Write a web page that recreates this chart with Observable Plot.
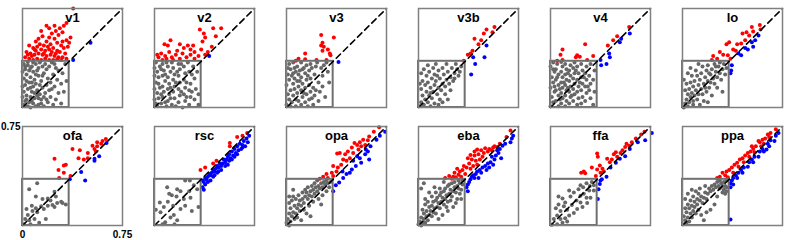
<!DOCTYPE html>
<html><head><meta charset="utf-8">
<script src="https://cdn.jsdelivr.net/npm/d3@7"></script>
<script src="https://cdn.jsdelivr.net/npm/@observablehq/plot@0.6"></script>
<style>body{margin:0;background:#fff}#chart{width:789px;height:240px}</style>
</head><body><div id="chart"></div>
<script>
const panels = ["v1","v2","v3","v3b","v4","lo","ofa","rsc","opa","eba","ffa","ppa"];
const threshold = 0.35;
const axisMax = 0.75;
const xTickValues = [0, 0.75];
const xTickLabels = ["0", "0.75"];
const yTickValues = [0.75];
const yTickLabels = ["0.75"];

const pts_v1 = [
[0.01,0.02],[0.02,0.05],[0.04,0.01],[0.03,0.09],[0.05,0.04],[0.06,0.08],[0.01,0.12],[0.04,0.14],[0.07,0.12],[0.02,0.17],[0.05,0.19],[0.08,0.16],[0.01,0.22],[0.03,0.25],[0.06,0.23],[0.09,0.21],[0.02,0.29],[0.05,0.28],[0.08,0.27],[0.01,0.33],[0.04,0.32],[0.07,0.31],[0.10,0.33],[0.11,0.28],[0.12,0.24],[0.10,0.18],[0.11,0.13],[0.09,0.07],[0.08,0.03],[0.12,0.02],[0.14,0.06],[0.13,0.10],[0.15,0.15],[0.14,0.20],[0.16,0.26],[0.15,0.31],[0.13,0.34],[0.17,0.33],[0.18,0.29],[0.19,0.22],[0.18,0.17],[0.17,0.11],[0.19,0.04],[0.16,0.01],[0.21,0.08],[0.22,0.14],[0.21,0.19],[0.23,0.25],[0.20,0.31],[0.22,0.34],[0.25,0.30],[0.26,0.21],[0.24,0.16],[0.27,0.11],[0.25,0.06],[0.29,0.03],[0.30,0.26],[0.32,0.33],[0.29,0.18],[0.31,0.12],[0.33,0.20],[0.02,0.01],[0.06,0.00],[0.10,0.01],[0.03,0.06],[0.07,0.05],[0.00,0.08],[0.00,0.16],[0.00,0.27],[0.03,0.20],[0.06,0.15],[0.09,0.11],[0.12,0.07],[0.04,0.345],[0.08,0.34],[0.12,0.30],[0.15,0.24],[0.06,0.30],[0.10,0.25],[0.13,0.17],[0.16,0.08],[0.20,0.13],[0.23,0.02],[0.27,0.28],[0.18,0.06],[0.24,0.33],[0.02,0.31],[0.07,0.19],[0.11,0.09],[0.14,0.03],
[0.38,0.75],[0.33,0.64],[0.31,0.62],[0.28,0.60],[0.25,0.58],[0.30,0.57],[0.36,0.53],[0.33,0.51],[0.27,0.55],[0.22,0.56],[0.24,0.52],[0.20,0.53],[0.18,0.50],[0.15,0.54],[0.12,0.52],[0.10,0.50],[0.16,0.47],[0.21,0.48],[0.26,0.49],[0.29,0.47],[0.31,0.45],[0.34,0.46],[0.05,0.47],[0.08,0.45],[0.11,0.46],[0.14,0.44],[0.17,0.43],[0.20,0.44],[0.23,0.45],[0.26,0.43],[0.28,0.42],[0.32,0.41],[0.03,0.42],[0.06,0.41],[0.09,0.40],[0.12,0.41],[0.15,0.40],[0.18,0.39],[0.21,0.40],[0.24,0.39],[0.27,0.38],[0.30,0.38],[0.02,0.38],[0.05,0.37],[0.08,0.36],[0.11,0.37],[0.14,0.36],[0.17,0.37],[0.20,0.36],[0.23,0.36],[0.26,0.365],[0.29,0.36],[0.33,0.37],[0.10,0.43],[0.13,0.48],[0.07,0.39],[0.19,0.46],[0.22,0.42],[0.25,0.41],[0.16,0.41],[0.09,0.44],[0.04,0.40],[0.30,0.50],[0.35,0.49],[0.24,0.62],[0.20,0.60],[0.14,0.58],[0.18,0.62],
[0.51,0.49],[0.38,0.36]
];
const pts_v2 = [
[0.01,0.03],[0.03,0.07],[0.02,0.11],[0.04,0.15],[0.01,0.19],[0.03,0.23],[0.02,0.27],[0.04,0.31],[0.01,0.34],[0.06,0.33],[0.07,0.28],[0.06,0.24],[0.08,0.20],[0.06,0.16],[0.07,0.12],[0.06,0.08],[0.05,0.03],[0.09,0.01],[0.10,0.05],[0.11,0.10],[0.10,0.14],[0.11,0.18],[0.10,0.23],[0.12,0.27],[0.10,0.31],[0.13,0.34],[0.14,0.30],[0.15,0.25],[0.14,0.21],[0.15,0.16],[0.14,0.12],[0.15,0.07],[0.13,0.02],[0.18,0.04],[0.19,0.09],[0.18,0.14],[0.19,0.19],[0.18,0.24],[0.19,0.29],[0.18,0.33],[0.22,0.31],[0.23,0.26],[0.22,0.21],[0.23,0.15],[0.22,0.10],[0.23,0.05],[0.26,0.02],[0.27,0.08],[0.26,0.13],[0.27,0.18],[0.26,0.27],[0.25,0.34],[0.29,0.31],[0.30,0.22],[0.31,0.14],[0.30,0.06],[0.33,0.02],[0.33,0.10],[0.32,0.27],[0.02,0.01],[0.05,0.10],[0.03,0.18],[0.08,0.25],[0.05,0.29],[0.09,0.34],[0.12,0.07],[0.16,0.01],[0.17,0.27],[0.20,0.12],[0.24,0.19],[0.28,0.25],[0.21,0.00],[0.00,0.06],[0.00,0.14],[0.00,0.24],[0.00,0.30],[0.08,0.04],[0.12,0.15],[0.16,0.19],[0.20,0.33],[0.28,0.12],[0.24,0.08],
[0.44,0.60],[0.50,0.60],[0.34,0.59],[0.37,0.56],[0.38,0.53],[0.46,0.54],[0.12,0.51],[0.075,0.48],[0.10,0.47],[0.36,0.50],[0.43,0.46],[0.40,0.42],[0.30,0.42],[0.27,0.44],[0.22,0.45],[0.19,0.48],[0.25,0.47],[0.03,0.38],[0.05,0.41],[0.08,0.39],[0.11,0.42],[0.13,0.38],[0.16,0.40],[0.19,0.37],[0.21,0.41],[0.24,0.38],[0.27,0.40],[0.30,0.37],[0.33,0.39],[0.06,0.36],[0.14,0.36],[0.35,0.44],[0.38,0.40],[0.17,0.43],[0.02,0.40],[0.09,0.37],[0.29,0.47],
[0.41,0.39]
];
const pts_v3 = [
[0.00,0.02],[0.02,0.06],[0.01,0.10],[0.03,0.13],[0.00,0.17],[0.02,0.21],[0.01,0.25],[0.03,0.29],[0.02,0.33],[0.05,0.34],[0.06,0.30],[0.05,0.26],[0.06,0.22],[0.05,0.18],[0.06,0.14],[0.05,0.09],[0.04,0.04],[0.07,0.01],[0.09,0.05],[0.08,0.11],[0.09,0.16],[0.08,0.20],[0.09,0.25],[0.08,0.31],[0.11,0.34],[0.12,0.29],[0.11,0.23],[0.12,0.18],[0.11,0.13],[0.12,0.08],[0.11,0.02],[0.14,0.04],[0.15,0.10],[0.14,0.15],[0.15,0.21],[0.14,0.26],[0.15,0.32],[0.18,0.33],[0.17,0.28],[0.18,0.22],[0.17,0.17],[0.18,0.12],[0.17,0.06],[0.20,0.02],[0.21,0.09],[0.20,0.15],[0.21,0.25],[0.22,0.31],[0.24,0.19],[0.25,0.12],[0.24,0.05],[0.27,0.24],[0.28,0.32],[0.27,0.16],[0.29,0.08],[0.31,0.27],[0.32,0.19],[0.03,0.01],[0.04,0.24],[0.07,0.27],[0.10,0.20],[0.13,0.11],[0.16,0.24],[0.19,0.30],[0.01,0.30],[0.07,0.06],[0.10,0.28],[0.13,0.30],[0.16,0.01],[0.19,0.07],[0.22,0.13],[0.26,0.30],[0.30,0.34],[0.23,0.34],
[0.26,0.55],[0.355,0.53],[0.27,0.49],[0.26,0.47],[0.28,0.46],[0.31,0.44],[0.27,0.43],[0.325,0.41],[0.33,0.395],[0.14,0.41],[0.09,0.37],[0.14,0.365],[0.225,0.36],[0.30,0.36],[0.07,0.355],
[0.39,0.345]
];
const pts_v3b = [
[0.01,0.01],[0.02,0.04],[0.04,0.02],[0.05,0.06],[0.03,0.09],[0.07,0.04],[0.08,0.09],[0.06,0.12],[0.02,0.14],[0.10,0.07],[0.11,0.12],[0.09,0.15],[0.05,0.17],[0.03,0.20],[0.07,0.19],[0.12,0.17],[0.14,0.10],[0.15,0.15],[0.13,0.20],[0.10,0.22],[0.06,0.24],[0.02,0.26],[0.04,0.29],[0.08,0.27],[0.12,0.25],[0.16,0.22],[0.18,0.18],[0.17,0.13],[0.20,0.16],[0.21,0.21],[0.19,0.25],[0.15,0.28],[0.11,0.30],[0.07,0.32],[0.13,0.33],[0.18,0.30],[0.22,0.27],[0.24,0.23],[0.23,0.18],[0.26,0.20],[0.27,0.26],[0.25,0.30],[0.21,0.33],[0.29,0.29],[0.30,0.24],[0.28,0.33],[0.32,0.31],[0.31,0.27],[0.20,0.10],[0.16,0.06],[0.24,0.13],[0.12,0.03],[0.09,0.01],[0.15,0.02],[0.22,0.06],[0.18,0.04],[0.01,0.18],[0.09,0.11],[0.14,0.24],[0.27,0.22],
[0.57,0.61],[0.51,0.59],[0.49,0.56],[0.555,0.57],[0.47,0.51],[0.42,0.52],[0.45,0.48],[0.39,0.41],[0.37,0.40],[0.34,0.355],[0.405,0.43],
[0.51,0.47],[0.495,0.38],[0.425,0.33],[0.395,0.25],[0.41,0.38]
];
const pts_v4 = [
[0.00,0.01],[0.02,0.04],[0.01,0.08],[0.03,0.12],[0.00,0.15],[0.02,0.19],[0.01,0.23],[0.03,0.27],[0.00,0.31],[0.02,0.34],[0.05,0.33],[0.04,0.29],[0.06,0.25],[0.04,0.21],[0.06,0.17],[0.04,0.13],[0.06,0.09],[0.04,0.05],[0.06,0.01],[0.08,0.03],[0.09,0.07],[0.08,0.11],[0.09,0.15],[0.08,0.19],[0.09,0.23],[0.08,0.27],[0.09,0.31],[0.08,0.345],[0.11,0.33],[0.12,0.29],[0.11,0.25],[0.12,0.21],[0.11,0.17],[0.12,0.13],[0.11,0.09],[0.12,0.05],[0.11,0.01],[0.14,0.03],[0.15,0.08],[0.14,0.12],[0.15,0.16],[0.14,0.20],[0.15,0.24],[0.14,0.28],[0.15,0.32],[0.18,0.34],[0.17,0.30],[0.18,0.26],[0.17,0.22],[0.18,0.18],[0.17,0.14],[0.18,0.10],[0.17,0.05],[0.20,0.02],[0.21,0.07],[0.20,0.12],[0.21,0.16],[0.20,0.21],[0.21,0.26],[0.20,0.31],[0.23,0.33],[0.24,0.28],[0.23,0.23],[0.24,0.18],[0.23,0.13],[0.24,0.08],[0.23,0.03],[0.26,0.05],[0.27,0.11],[0.26,0.16],[0.27,0.21],[0.26,0.26],[0.27,0.31],[0.30,0.33],[0.29,0.24],[0.30,0.18],[0.29,0.13],[0.30,0.07],[0.32,0.02],[0.33,0.12],[0.32,0.21],[0.33,0.28],[0.02,0.29],[0.05,0.23],[0.07,0.14],[0.10,0.19],[0.13,0.26],[0.16,0.09],[0.19,0.28],[0.22,0.19],[0.25,0.23],[0.28,0.16],[0.07,0.06],[0.13,0.15],[0.03,0.16],
[0.59,0.61],[0.50,0.54],[0.53,0.52],[0.47,0.51],[0.43,0.47],[0.26,0.48],[0.09,0.44],[0.075,0.40],[0.20,0.395],[0.19,0.38],[0.22,0.385],[0.32,0.39],[0.09,0.36],[0.05,0.355],[0.275,0.36],
[0.595,0.56],[0.52,0.495],[0.44,0.41],[0.445,0.38],[0.375,0.36],[0.42,0.33],[0.38,0.32]
];
const pts_lo = [
[0.01,0.00],[0.02,0.03],[0.04,0.01],[0.03,0.06],[0.05,0.04],[0.06,0.08],[0.04,0.10],[0.08,0.05],[0.07,0.11],[0.09,0.09],[0.02,0.13],[0.05,0.14],[0.10,0.13],[0.12,0.10],[0.11,0.06],[0.08,0.16],[0.03,0.18],[0.06,0.19],[0.01,0.21],[0.09,0.20],[0.12,0.17],[0.14,0.14],[0.15,0.10],[0.13,0.21],[0.11,0.24],[0.07,0.24],[0.04,0.26],[0.16,0.18],[0.17,0.23],[0.14,0.26],[0.10,0.28],[0.19,0.20],[0.20,0.15],[0.18,0.12],[0.21,0.25],[0.18,0.28],[0.15,0.31],[0.23,0.22],[0.24,0.18],[0.22,0.29],[0.19,0.32],[0.25,0.27],[0.26,0.23],[0.27,0.31],[0.24,0.33],[0.28,0.26],[0.29,0.21],[0.30,0.29],[0.31,0.33],[0.32,0.25],[0.28,0.34],[0.33,0.30],[0.26,0.15],[0.30,0.12],[0.22,0.09],[0.16,0.05],[0.13,0.02],[0.19,0.04],[0.06,0.30],[0.12,0.33],[0.08,0.02],[0.17,0.15],[0.21,0.19],[0.25,0.31],[0.20,0.26],
[0.58,0.625],[0.52,0.61],[0.48,0.57],[0.45,0.56],[0.50,0.545],[0.35,0.495],[0.33,0.48],[0.41,0.48],[0.44,0.485],[0.38,0.44],[0.28,0.42],[0.305,0.40],[0.34,0.395],[0.23,0.39],[0.26,0.37],[0.22,0.36],[0.36,0.37],[0.47,0.51],[0.53,0.575],[0.40,0.43],
[0.57,0.545],[0.545,0.51],[0.585,0.59],[0.53,0.46],[0.49,0.44],[0.47,0.45],[0.42,0.41],[0.44,0.395],[0.37,0.32],[0.365,0.28],[0.36,0.26],[0.52,0.495]
];
const pts_ofa = [
[0.11,0.32],[0.05,0.275],[0.10,0.22],[0.15,0.20],[0.19,0.205],[0.21,0.19],[0.25,0.22],[0.24,0.255],[0.29,0.18],[0.26,0.17],[0.225,0.155],[0.19,0.15],[0.14,0.145],[0.10,0.13],[0.075,0.11],[0.04,0.08],[0.02,0.05],[0.05,0.04],[0.09,0.05],[0.125,0.02],[0.06,0.01],[0.175,0.05],[0.325,0.16],[0.30,0.17],[0.24,0.14],[0.01,0.01],[0.16,0.125],[0.11,0.10],[0.07,0.15],[0.03,0.125],
[0.625,0.655],[0.60,0.64],[0.56,0.63],[0.525,0.605],[0.56,0.60],[0.54,0.58],[0.59,0.62],[0.375,0.58],[0.43,0.57],[0.49,0.55],[0.42,0.51],[0.46,0.50],[0.49,0.51],[0.24,0.505],[0.325,0.46],[0.31,0.455],[0.27,0.42],[0.31,0.40],[0.275,0.36],[0.36,0.375],[0.55,0.56],
[0.63,0.625],[0.54,0.505],[0.54,0.49],[0.575,0.525],[0.44,0.405],[0.47,0.34],[0.355,0.35]
];
const pts_rsc = [
[0.23,0.34],[0.265,0.34],[0.295,0.305],[0.17,0.275],[0.095,0.29],[0.13,0.23],[0.165,0.22],[0.195,0.26],[0.26,0.26],[0.22,0.20],[0.10,0.18],[0.14,0.15],[0.07,0.14],[0.01,0.12],[0.045,0.10],[0.145,0.08],[0.12,0.06],[0.17,0.04],[0.08,0.025],[0.06,0.01],[0.15,0.01],[0.33,0.14],[0.28,0.11],[0.195,0.125],[0.23,0.15],[0.04,0.175],[0.11,0.24],[0.32,0.275],[0.27,0.21],
[0.695,0.70],[0.66,0.68],[0.62,0.67],[0.565,0.625],[0.565,0.60],[0.465,0.49],[0.44,0.47],[0.345,0.42],[0.38,0.44],
[0.71,0.68],[0.69,0.66],[0.67,0.64],[0.70,0.63],[0.66,0.61],[0.68,0.60],[0.64,0.62],[0.62,0.60],[0.65,0.58],[0.63,0.57],[0.60,0.58],[0.61,0.55],[0.58,0.56],[0.59,0.53],[0.56,0.54],[0.57,0.51],[0.55,0.52],[0.54,0.50],[0.53,0.48],[0.56,0.49],[0.52,0.50],[0.51,0.47],[0.50,0.45],[0.49,0.47],[0.48,0.44],[0.47,0.45],[0.46,0.43],[0.45,0.41],[0.47,0.40],[0.44,0.42],[0.43,0.40],[0.42,0.38],[0.44,0.37],[0.41,0.39],[0.40,0.37],[0.39,0.35],[0.38,0.36],[0.37,0.33],[0.36,0.34],[0.38,0.31],[0.36,0.29],[0.37,0.27],[0.50,0.42],[0.53,0.45],[0.58,0.50],[0.62,0.54],[0.66,0.59],[0.42,0.34],[0.45,0.38],[0.40,0.33],[0.60,0.52],[0.55,0.46],[0.48,0.41]
];
const pts_opa = [
[0.00,0.02],[0.02,0.00],[0.01,0.05],[0.03,0.03],[0.04,0.07],[0.02,0.09],[0.06,0.05],[0.05,0.10],[0.03,0.13],[0.07,0.09],[0.08,0.13],[0.06,0.15],[0.02,0.17],[0.04,0.19],[0.09,0.16],[0.10,0.11],[0.11,0.15],[0.07,0.20],[0.05,0.22],[0.10,0.19],[0.12,0.20],[0.13,0.17],[0.09,0.23],[0.14,0.22],[0.12,0.25],[0.16,0.20],[0.15,0.25],[0.17,0.23],[0.14,0.27],[0.18,0.26],[0.19,0.22],[0.16,0.29],[0.20,0.27],[0.21,0.24],[0.19,0.30],[0.22,0.29],[0.23,0.26],[0.21,0.32],[0.24,0.30],[0.25,0.28],[0.23,0.34],[0.26,0.32],[0.27,0.29],[0.28,0.33],[0.29,0.31],[0.30,0.34],[0.31,0.32],[0.32,0.29],[0.33,0.33],[0.13,0.12],[0.17,0.15],[0.20,0.18],[0.24,0.20],[0.08,0.06],[0.15,0.09],[0.18,0.07],[0.11,0.04],[0.26,0.16],[0.05,0.27],[0.27,0.23],[0.30,0.26],[0.02,0.22],
[0.695,0.745],[0.655,0.71],[0.62,0.675],[0.575,0.65],[0.55,0.63],[0.53,0.61],[0.51,0.625],[0.49,0.59],[0.46,0.56],[0.50,0.55],[0.54,0.575],[0.59,0.61],[0.40,0.55],[0.44,0.54],[0.38,0.545],[0.425,0.50],[0.45,0.49],[0.475,0.51],[0.41,0.46],[0.385,0.44],[0.35,0.45],[0.375,0.41],[0.34,0.40],[0.30,0.39],[0.275,0.37],[0.31,0.36],[0.25,0.355],[0.35,0.375],[0.56,0.60],[0.61,0.645],
[0.74,0.71],[0.70,0.68],[0.675,0.65],[0.63,0.60],[0.61,0.56],[0.59,0.54],[0.62,0.50],[0.55,0.51],[0.56,0.475],[0.52,0.45],[0.49,0.425],[0.475,0.40],[0.50,0.49],[0.45,0.39],[0.425,0.36],[0.395,0.325],[0.37,0.305],[0.35,0.26],[0.42,0.41],[0.595,0.575],[0.53,0.525]
];
const pts_eba = [
[0.00,0.01],[0.01,0.03],[0.02,0.00],[0.03,0.02],[0.02,0.06],[0.04,0.05],[0.05,0.02],[0.06,0.07],[0.04,0.09],[0.07,0.04],[0.08,0.08],[0.06,0.11],[0.03,0.12],[0.09,0.11],[0.10,0.07],[0.11,0.10],[0.08,0.14],[0.05,0.16],[0.12,0.13],[0.10,0.15],[0.13,0.09],[0.14,0.14],[0.11,0.18],[0.07,0.18],[0.15,0.17],[0.13,0.19],[0.16,0.13],[0.17,0.18],[0.14,0.21],[0.10,0.22],[0.18,0.21],[0.16,0.23],[0.19,0.16],[0.20,0.20],[0.17,0.25],[0.13,0.25],[0.21,0.23],[0.19,0.26],[0.22,0.18],[0.23,0.24],[0.20,0.28],[0.16,0.28],[0.24,0.27],[0.22,0.30],[0.25,0.22],[0.26,0.26],[0.23,0.31],[0.27,0.29],[0.25,0.32],[0.28,0.25],[0.29,0.30],[0.27,0.33],[0.30,0.28],[0.31,0.32],[0.32,0.27],[0.33,0.31],[0.30,0.34],[0.33,0.34],[0.29,0.20],[0.26,0.14],[0.22,0.11],[0.18,0.08],[0.15,0.05],[0.31,0.24],[0.02,0.28],[0.05,0.20],[0.08,0.25],[0.12,0.29],[0.04,0.32],[0.19,0.33],[0.28,0.17],[0.24,0.19],[0.32,0.20],[0.21,0.14],
[0.69,0.72],[0.66,0.67],[0.59,0.595],[0.56,0.59],[0.53,0.58],[0.50,0.585],[0.47,0.57],[0.44,0.575],[0.42,0.56],[0.52,0.56],[0.49,0.55],[0.45,0.54],[0.42,0.53],[0.39,0.535],[0.48,0.52],[0.46,0.50],[0.43,0.49],[0.40,0.50],[0.37,0.51],[0.44,0.46],[0.41,0.45],[0.38,0.47],[0.36,0.44],[0.34,0.45],[0.39,0.43],[0.33,0.42],[0.31,0.41],[0.29,0.43],[0.27,0.40],[0.30,0.385],[0.26,0.37],[0.23,0.375],[0.20,0.36],[0.25,0.355],[0.32,0.37],[0.35,0.39],[0.28,0.365],[0.57,0.60],[0.55,0.57],[0.61,0.62],
[0.71,0.68],[0.70,0.66],[0.69,0.63],[0.65,0.62],[0.63,0.605],[0.61,0.58],[0.60,0.55],[0.58,0.53],[0.62,0.51],[0.57,0.50],[0.55,0.52],[0.54,0.48],[0.56,0.46],[0.52,0.47],[0.50,0.45],[0.51,0.42],[0.48,0.44],[0.46,0.42],[0.47,0.40],[0.44,0.41],[0.43,0.39],[0.41,0.38],[0.42,0.36],[0.40,0.37],[0.39,0.35],[0.38,0.33],[0.37,0.31],[0.36,0.29],[0.37,0.26],[0.45,0.36],[0.53,0.44],[0.59,0.57]
];
const pts_ffa = [
[0.025,0.05],[0.05,0.075],[0.04,0.13],[0.075,0.11],[0.06,0.16],[0.10,0.145],[0.11,0.175],[0.09,0.205],[0.06,0.22],[0.15,0.22],[0.175,0.25],[0.14,0.265],[0.21,0.275],[0.225,0.305],[0.245,0.29],[0.27,0.32],[0.295,0.30],[0.31,0.33],[0.325,0.305],[0.29,0.265],[0.25,0.24],[0.27,0.21],[0.225,0.175],[0.195,0.19],[0.16,0.155],[0.20,0.125],[0.175,0.095],[0.14,0.075],[0.11,0.055],[0.125,0.03],[0.09,0.02],[0.05,0.01],[0.01,0.005],[0.30,0.21],[0.325,0.265],[0.275,0.17],[0.24,0.14],[0.075,0.05],[0.125,0.12],[0.225,0.225],
[0.705,0.71],[0.68,0.69],[0.64,0.66],[0.61,0.63],[0.57,0.62],[0.59,0.605],[0.56,0.595],[0.525,0.55],[0.49,0.555],[0.475,0.54],[0.50,0.52],[0.46,0.50],[0.445,0.48],[0.425,0.505],[0.35,0.545],[0.355,0.52],[0.37,0.455],[0.39,0.43],[0.35,0.425],[0.375,0.40],[0.31,0.44],[0.25,0.41],[0.23,0.40],[0.26,0.395],[0.34,0.375],[0.40,0.41],[0.54,0.57],
[0.76,0.70],[0.71,0.645],[0.655,0.63],[0.595,0.58],[0.56,0.525],[0.52,0.505],[0.45,0.44],[0.42,0.37],[0.375,0.34],[0.37,0.315],[0.36,0.275],[0.355,0.20],[0.385,0.35],[0.49,0.475]
];
const pts_ppa = [
[0.01,0.01],[0.02,0.04],[0.03,0.02],[0.01,0.07],[0.04,0.06],[0.05,0.03],[0.03,0.10],[0.06,0.09],[0.02,0.13],[0.05,0.13],[0.07,0.06],[0.08,0.11],[0.04,0.16],[0.07,0.15],[0.09,0.14],[0.10,0.09],[0.06,0.19],[0.02,0.20],[0.09,0.18],[0.11,0.16],[0.12,0.12],[0.08,0.22],[0.11,0.20],[0.13,0.19],[0.04,0.24],[0.12,0.24],[0.14,0.22],[0.15,0.17],[0.10,0.26],[0.16,0.21],[0.17,0.25],[0.18,0.20],[0.13,0.28],[0.19,0.24],[0.20,0.28],[0.21,0.26],[0.22,0.30],[0.23,0.27],[0.24,0.31],[0.25,0.29],[0.26,0.33],[0.27,0.30],[0.28,0.34],[0.28,0.28],[0.29,0.32],[0.30,0.30],[0.31,0.33],[0.31,0.27],[0.32,0.30],[0.33,0.34],[0.33,0.26],[0.32,0.24],[0.33,0.29],[0.30,0.25],[0.14,0.08],[0.18,0.10],[0.21,0.12],[0.24,0.16],[0.16,0.04],[0.07,0.27],[0.17,0.30],[0.26,0.22],
[0.70,0.73],[0.66,0.70],[0.64,0.69],[0.65,0.67],[0.62,0.66],[0.60,0.65],[0.58,0.63],[0.61,0.62],[0.55,0.60],[0.59,0.60],[0.53,0.58],[0.51,0.56],[0.54,0.555],[0.49,0.55],[0.47,0.53],[0.50,0.52],[0.45,0.51],[0.43,0.50],[0.46,0.48],[0.41,0.475],[0.39,0.46],[0.42,0.445],[0.37,0.44],[0.35,0.42],[0.38,0.40],[0.33,0.41],[0.30,0.40],[0.32,0.38],[0.28,0.37],[0.34,0.365],[0.26,0.36],[0.57,0.64],[0.52,0.60],
[0.72,0.70],[0.70,0.68],[0.69,0.64],[0.66,0.645],[0.64,0.62],[0.65,0.60],[0.60,0.58],[0.61,0.56],[0.58,0.56],[0.57,0.52],[0.54,0.52],[0.52,0.50],[0.50,0.48],[0.49,0.445],[0.46,0.44],[0.44,0.42],[0.45,0.40],[0.42,0.40],[0.40,0.38],[0.41,0.36],[0.38,0.36],[0.37,0.34],[0.36,0.32],[0.38,0.31],[0.36,0.29],[0.36,0.045],[0.53,0.48],[0.63,0.575]
];

const pointsByPanel = {v1: pts_v1, v2: pts_v2, v3: pts_v3, v3b: pts_v3b, v4: pts_v4, lo: pts_lo,
  ofa: pts_ofa, rsc: pts_rsc, opa: pts_opa, eba: pts_eba, ffa: pts_ffa, ppa: pts_ppa};

const rows = [];
panels.forEach((p, i) => {
  for (const [x, y] of pointsByPanel[p]) {
    const cls = (x < threshold && y < threshold) ? "inside" : (y > x ? "above" : "below");
    rows.push({panel: p, col: i % 6, row: Math.floor(i / 6), x, y, cls});
  }
});
const titles = panels.map((p, i) => ({name: p, col: i % 6, row: Math.floor(i / 6)}));
const xTicks = xTickValues.map((v, i) => ({v, t: xTickLabels[i], col: 0, row: 1}));
const yTicks = yTickValues.map((v, i) => ({v, t: yTickLabels[i], col: 0, row: 1}));
const box = [{x1: 0, x2: threshold, y1: 0, y2: threshold}];
const diag = [0, axisMax].map(v => ({x: v, y: v}));

const chart = Plot.plot({
  width: 789, height: 240,
  marginLeft: 22, marginRight: 7, marginTop: 7, marginBottom: 14,
  style: {fontFamily: "'Liberation Sans', Arial, sans-serif", background: "white"},
  x: {domain: [0, axisMax], axis: null},
  y: {domain: [0, axisMax], axis: null},
  fx: {domain: [0,1,2,3,4,5], axis: null, paddingInner: 32/132, paddingOuter: 0},
  fy: {domain: [0,1], axis: null, paddingInner: 19/119, paddingOuter: 0},
  color: {domain: ["inside","above","below"], range: ["#676767","#ff0000","#0000ff"]},
  marks: [
    Plot.dot(rows, {x: "x", y: "y", fx: "col", fy: "row", fill: "cls", r: 2}),
    Plot.rect(box, {x1: "x1", x2: "x2", y1: "y1", y2: "y2", fill: "none", stroke: "#707070", strokeWidth: 2}),
    Plot.line(diag, {x: "x", y: "y", stroke: "black", strokeWidth: 1.6, strokeDasharray: "6,4"}),
    Plot.frame({stroke: "#808080", strokeWidth: 1.5}),
    Plot.text(titles, {fx: "col", fy: "row", text: "name", frameAnchor: "top", lineAnchor: "middle", dy: 9, fontSize: 13, fontWeight: "bold", fill: "black"}),
    Plot.text(xTicks, {fx: "col", fy: "row", x: "v", text: "t", frameAnchor: "bottom", lineAnchor: "middle", dy: 9, fontSize: 10, fontWeight: "bold", fill: "black"}),
    Plot.text(yTicks, {fx: "col", fy: "row", y: "v", text: "t", frameAnchor: "left", textAnchor: "end", lineAnchor: "middle", dx: -2, fontSize: 10, fontWeight: "bold", fill: "black"})
  ]
});
document.getElementById("chart").appendChild(chart);
</script>
</body></html>
